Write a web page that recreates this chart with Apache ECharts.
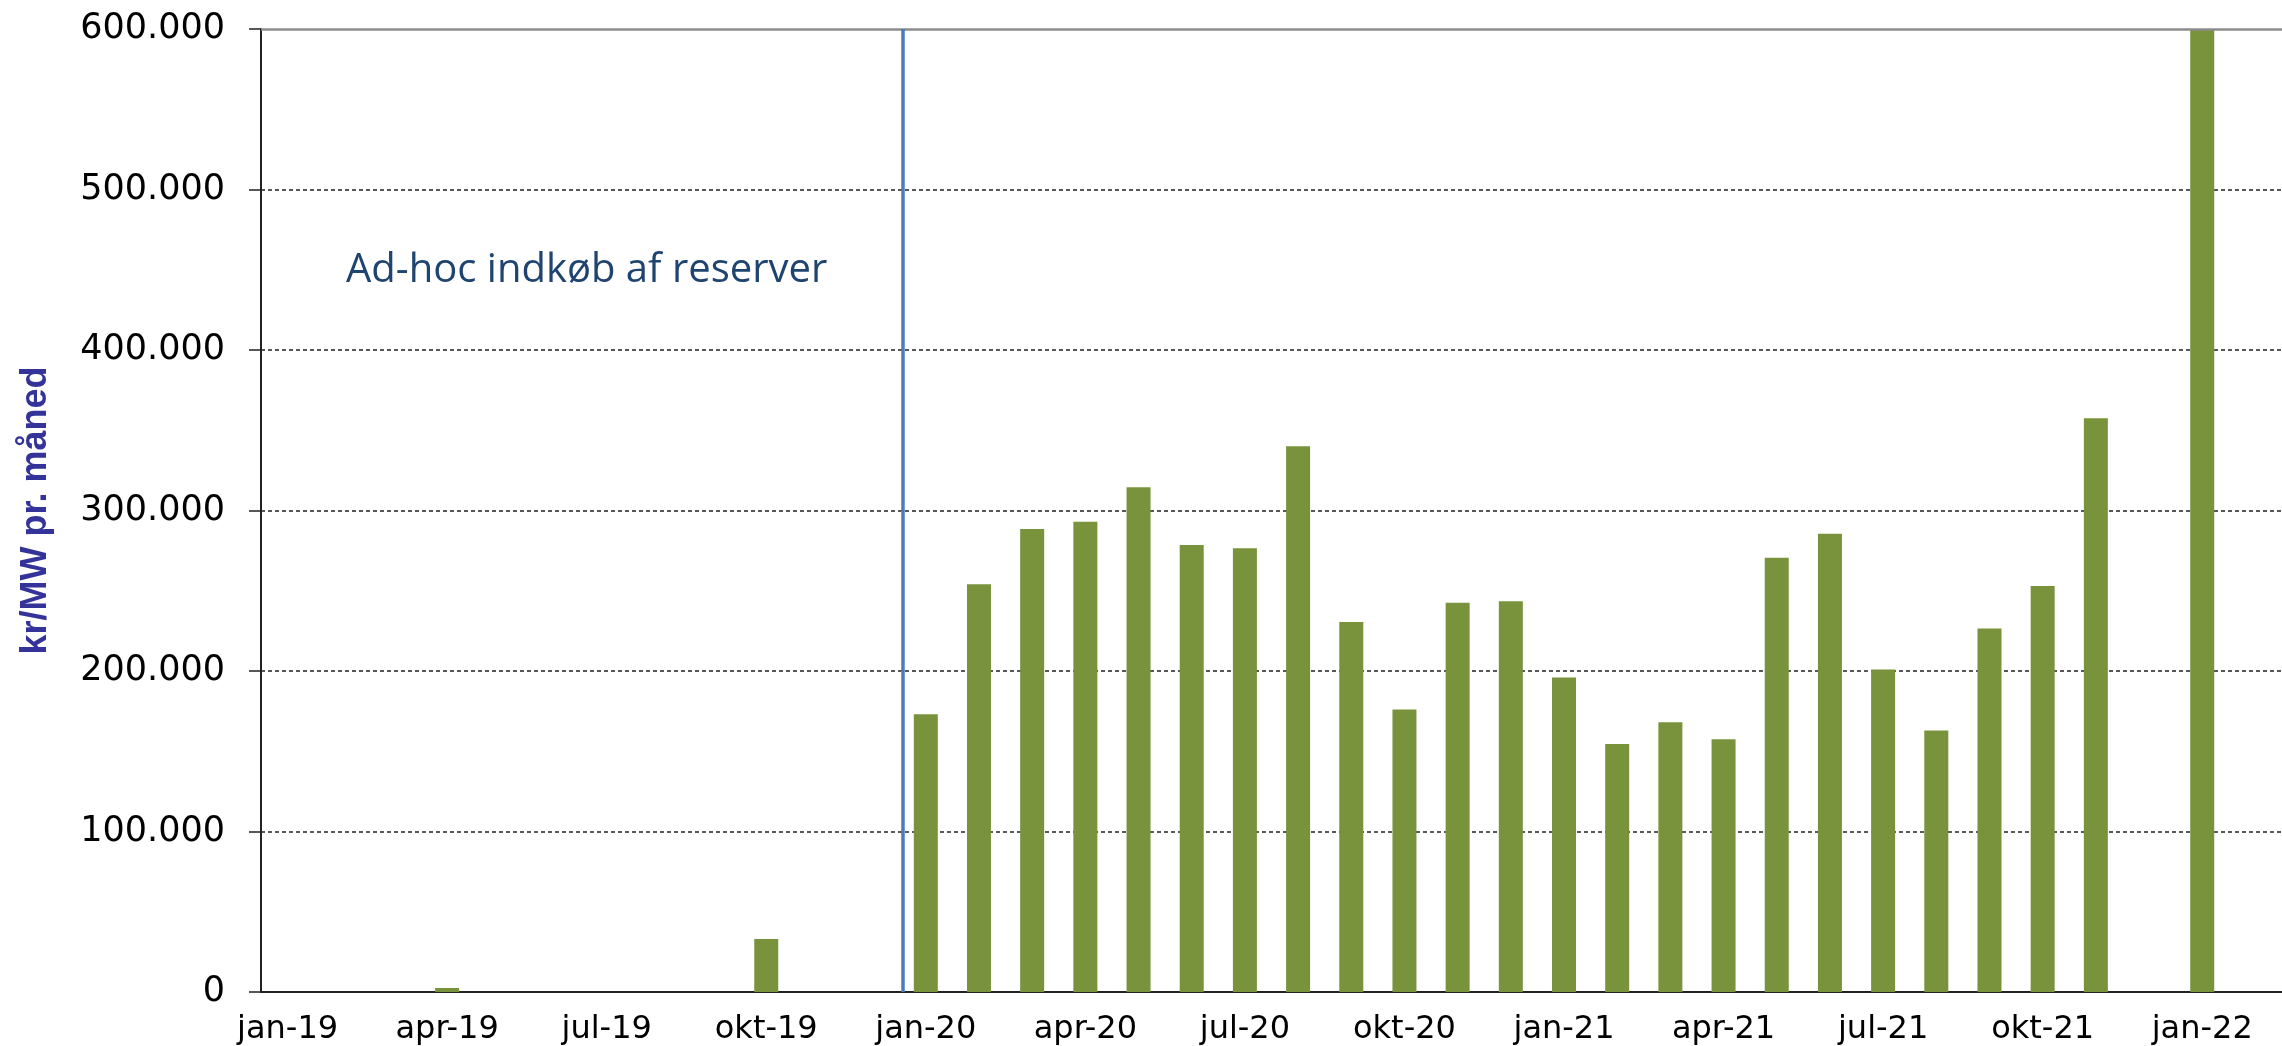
<!DOCTYPE html>
<html>
<head>
<meta charset="utf-8">
<title>kr/MW pr. måned</title>
<script src="https://cdn.jsdelivr.net/npm/echarts@6/dist/echarts.min.js"></script>
<style>
  html, body { margin: 0; padding: 0; background: #fff; }
  #chart { width: 2282px; height: 1046px; }
</style>
</head>
<body>
<div id="chart"></div>
<script>
const months = [
  'jan-19', 'feb-19', 'mar-19', 'apr-19', 'maj-19', 'jun-19', 'jul-19', 'aug-19', 'sep-19', 'okt-19', 'nov-19', 'dec-19',
  'jan-20', 'feb-20', 'mar-20', 'apr-20', 'maj-20', 'jun-20', 'jul-20', 'aug-20', 'sep-20', 'okt-20', 'nov-20', 'dec-20',
  'jan-21', 'feb-21', 'mar-21', 'apr-21', 'maj-21', 'jun-21', 'jul-21', 'aug-21', 'sep-21', 'okt-21', 'nov-21', 'dec-21',
  'jan-22', 'feb-22'
]
const prices = [
  null, null, null, 2500, null, null, null, null, null, 33000, null, null,
  173000, 254000, 288500, 293000, 314500, 278500, 276500, 340000, 230500, 176000, 242500, 243500,
  196000, 154500, 168000, 157500, 270500, 285500, 201000, 163000, 226500, 253000, 357500, null,
  620000, null
]
const yMin = 0
const yMax = 600000
const yStep = 100000
const reserveStart = 'jan-20'
const noteText = 'Ad-hoc indkøb af reserver'
const yTitle = 'kr/MW pr. måned'

function thousands (v) {
  return String(v).replace(/\B(?=(\d{3})+(?!\d))/g, '.')
}

const chart = echarts.init(document.getElementById('chart'))
const startIdx = months.indexOf(reserveStart)

chart.setOption({
  animation: false,
  grid: { left: 261, top: 29, bottom: 53, right: -17 },
  xAxis: [{
    type: 'category',
    data: months,
    boundaryGap: true,
    axisLine: { lineStyle: { color: '#222', width: 2 } },
    axisTick: { interval: 2, length: 10, lineStyle: { color: '#222', width: 1.5 } },
    axisLabel: { interval: 2, color: '#000', fontFamily: 'DejaVu Sans', fontSize: 32, margin: 22 },
    splitLine: { show: false }
  }, {
    type: 'value',
    min: 0,
    max: months.length,
    show: false
  }],
  yAxis: {
    type: 'value',
    min: yMin,
    max: yMax,
    interval: yStep,
    name: yTitle,
    nameLocation: 'middle',
    nameRotate: 90,
    nameGap: 207,
    nameTextStyle: { color: '#333399', fontFamily: 'Liberation Sans', fontWeight: 'bold', fontSize: 36 },
    axisLine: { show: true, lineStyle: { color: '#222', width: 2 } },
    axisTick: { show: true, length: 12, lineStyle: { color: '#222', width: 1.5 } },
    axisLabel: { color: '#000', fontFamily: 'DejaVu Sans', fontSize: 35, margin: 36, formatter: thousands },
    splitLine: { show: true, showMinLine: false, showMaxLine: false, lineStyle: { color: '#222', width: 1.5, type: [4, 3] } }
  },
  series: [{
    type: 'bar',
    data: prices,
    barWidth: 24,
    clip: true,
    itemStyle: { color: '#78933c' },
    markLine: {
      silent: true,
      symbol: 'none',
      label: { show: false },
      lineStyle: { color: '#8c8c8c', width: 2.5, type: 'solid' },
      data: [{ yAxis: yMax }]
    }
  }, {
    type: 'line',
    xAxisIndex: 1,
    data: [],
    markLine: {
      silent: true,
      symbol: 'none',
      label: { show: false },
      lineStyle: { color: '#4a7ebb', width: 3.5, type: 'solid' },
      data: [{ xAxis: startIdx + 0.06 }]
    }
  }],
  graphic: [{
    type: 'text',
    left: 346,
    top: 251,
    style: { text: noteText, fill: '#1f4470', font: '40px "Open Sans"' }
  }]
})
</script>
</body>
</html>
